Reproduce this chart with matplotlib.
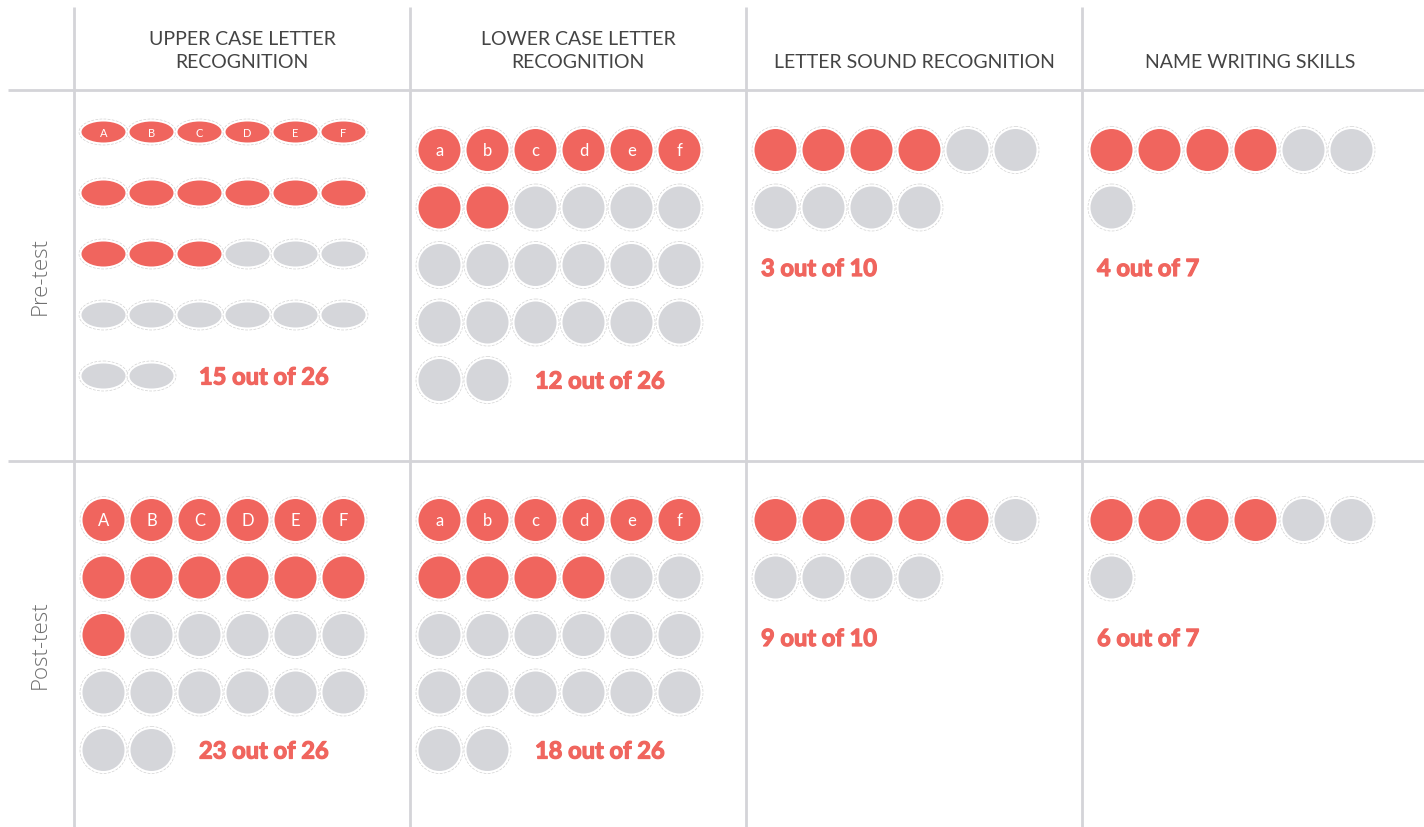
import matplotlib.pyplot as plt
import matplotlib.patheffects as pe
from matplotlib.patches import Ellipse

# data
skills = ["UPPER CASE LETTER\nRECOGNITION", "LOWER CASE LETTER\nRECOGNITION",
          "LETTER SOUND RECOGNITION", "NAME WRITING SKILLS"]
phases = ["Pre-test", "Post-test"]
totals = [26, 26, 10, 7]
shown_pre = [15, 8, 4, 4]      # coloured dots as drawn
shown_post = [13, 10, 5, 4]
score_pre = [15, 12, 3, 4]     # score as written
score_post = [23, 18, 9, 6]
first_row_letters = ["ABCDEF", "abcdef", "", ""]

RED = '#f0655e'
GREY = '#d5d6da'
LINE = '#d4d4d8'

fig = plt.figure(figsize=(14.24, 8.28), dpi=100)
ax = fig.add_axes([0, 0, 1, 1])
ax.set_xlim(0, 1424)
ax.set_ylim(828, 0)
ax.axis('off')

col_left = [74, 410, 746, 1082]
col_w = 336
row_top = [91, 462]

# grid lines
for x in col_left:
    ax.plot([x, x], [8, 828], color=LINE, lw=2, solid_capstyle='butt')
for y in row_top:
    ax.plot([8, 1424], [y, y], color=LINE, lw=2, solid_capstyle='butt')

# headers
for j, s in enumerate(skills):
    ax.text(col_left[j] + col_w / 2, 71, s, ha='center', va='bottom',
            fontsize=14, family='Lato', color='#444444', linespacing=1.45)

# row labels
row_mid = [276, 645]
for i, p in enumerate(phases):
    ax.text(40, row_mid[i], p, rotation=90, ha='center', va='center',
            fontsize=16, family='Open Sans', fontweight='light', color='#707070')


def dot(x, y, w, h, color, letter=None, fs=12):
    ax.add_patch(Ellipse((x, y), w + 5, h + 5, facecolor='white',
                         edgecolor='#d2d2d2', lw=0.5, ls=(0, (4, 2))))
    ax.add_patch(Ellipse((x, y), w, h, facecolor=color, edgecolor='none'))
    if letter:
        ax.text(x, y + 0.5, letter, ha='center', va='center', color='white',
                fontsize=fs, family='Lato')


thick = [pe.withStroke(linewidth=0.9, foreground=RED)]

for i, (shown, score) in enumerate([(shown_pre, score_pre), (shown_post, score_post)]):
    for j in range(4):
        x0 = col_left[j] + 29.5
        if i == 0 and j == 0:
            y0, dy = 133, 61
        elif i == 0:
            y0, dy = 151, 57.5
        else:
            y0, dy = 521, 57.5
        for k in range(totals[j]):
            r, c = divmod(k, 6)
            x = x0 + c * 48
            y = y0 + r * dy
            w, h = 42, 42
            fs = 12
            if i == 0 and j == 0:
                w, h = 44, (21 if r == 0 else 25)
                fs = 8
            letter = first_row_letters[j][c] if (r == 0 and first_row_letters[j]) else None
            dot(x, y, w, h, RED if k < shown[j] else GREY, letter, fs)
        label = f"{score[j]} out of {totals[j]}"
        nrows = (totals[j] + 5) // 6
        if totals[j] > 12:
            ax.text(col_left[j] + 125, y0 + (nrows - 1) * dy + 1, label, ha='left',
                    va='center', fontsize=17, family='Lato', fontweight='bold',
                    color=RED, path_effects=thick)
        else:
            ax.text(col_left[j] + 15, y0 + (nrows - 1) * dy + 61, label, ha='left',
                    va='center', fontsize=17, family='Lato', fontweight='bold',
                    color=RED, path_effects=thick)

fig.savefig('out.png', dpi=100)
